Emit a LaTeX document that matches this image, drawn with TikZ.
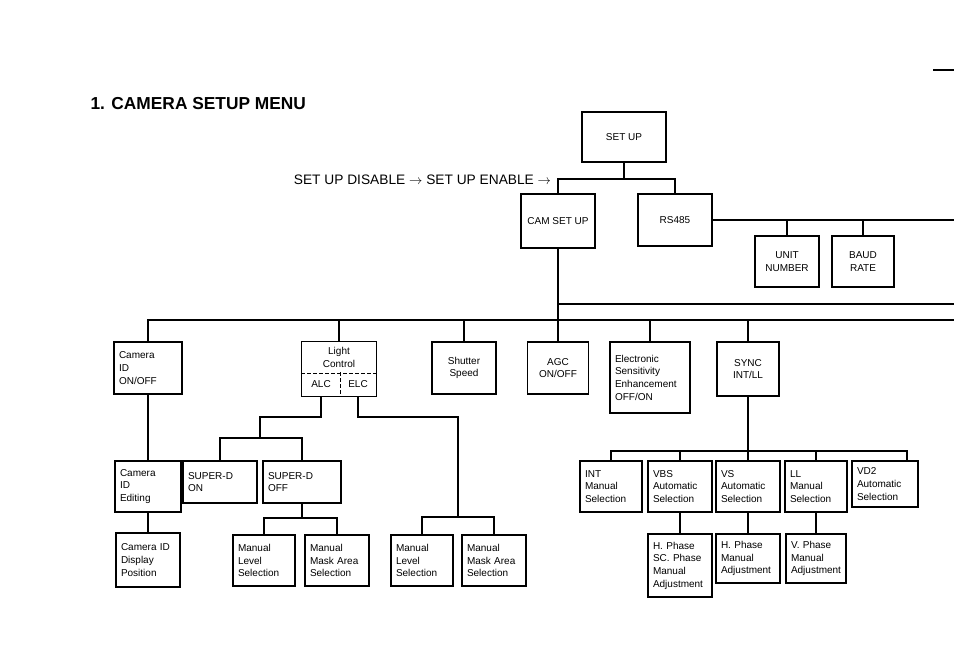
\documentclass[tikz,border=0pt]{standalone}
\usepackage{fontspec}
\setmainfont{Liberation Sans}
\begin{document}
\begin{tikzpicture}[x=0.75pt, y=-0.75pt, every path/.style={line width=0.9pt},
  box/.style 2 args={draw, minimum width=#1*0.75pt, minimum height=#2*0.75pt, inner sep=0pt, align=center, font=\fontsize{7.5}{9.5}\selectfont},
  lbox/.style 2 args={box={#1}{#2}, align=left, inner xsep=3.75pt, /utils/exec={\pgfmathsetlengthmacro\lboxw{#1*0.75pt-7.5pt}}, text width=\lboxw},
  cell/.style 2 args={box={#1}{#2}, draw=none}]
	\useasboundingbox (0,0) rectangle (954,665);
	\node[font=\bfseries\fontsize{13}{15}\selectfont, anchor=west, inner sep=0pt] (title) at (90,104) {1. CAMERA SETUP MENU};
	\node[font=\fontsize{10.3}{12}\selectfont, anchor=east, inner sep=1pt] (mode) at (553,180) {SET UP DISABLE $\rightarrow$ SET UP ENABLE $\rightarrow$};
	\node[box={84}{50}] (setup) at (624,137) {SET UP};
	\node[box={74}{54}] (cam) at (558,221) {CAM SET UP};
	\node[box={74}{52}] (rs) at (675,220) {RS485};
	\node[box={64}{51}] (unit) at (787,261.5) {UNIT\\NUMBER};
	\node[box={62}{51}] (baud) at (863,261.5) {BAUD\\RATE};
	\node[lbox={68}{52}] (camid) at (148,368) {Camera\\ID\\ON/OFF};
	\node[cell={74}{31}] (light) at (339,357.5) {Light\\Control};
	\node[cell={38}{23}] (alc) at (321,384.5) {ALC};
	\node[cell={36}{23}] (elc) at (358,384.5) {ELC};
	\node[box={64}{52}] (shut) at (464,368) {Shutter\\Speed};
	\node[box={61}{52}] (agc) at (558,368) {AGC\\ON/OFF};
	\node[lbox={80}{71}] (ese) at (650,377.5) {Electronic\\Sensitivity\\Enhancement\\OFF/ON};
	\node[box={62}{54}] (sync) at (748,369) {SYNC\\INT/LL};
	\node[lbox={66}{51}] (camed) at (148,486.5) {Camera\\ID\\Editing};
	\node[lbox={64}{54}] (campos) at (148,560) {Camera ID\\Display\\Position};
	\node[lbox={74}{42}] (sdon) at (220,482) {SUPER-D\\ON};
	\node[lbox={78}{42}] (sdoff) at (302,482) {SUPER-D\\OFF};
	\node[lbox={62}{51}] (lev1) at (264,560.5) {Manual\\Level\\Selection};
	\node[lbox={64}{51}] (mask1) at (337,560.5) {Manual\\Mask Area\\Selection};
	\node[lbox={62}{51}] (lev2) at (422,560.5) {Manual\\Level\\Selection};
	\node[lbox={64}{51}] (mask2) at (494,560.5) {Manual\\Mask Area\\Selection};
	\node[lbox={62}{51}] (int) at (611,486.5) {INT\\Manual\\Selection};
	\node[lbox={64}{51}] (vbs) at (680,486.5) {VBS\\Automatic\\Selection};
	\node[lbox={64}{51}] (vs) at (748,486.5) {VS\\Automatic\\Selection};
	\node[lbox={62}{51}] (ll) at (816,486.5) {LL\\Manual\\Selection};
	\node[lbox={66}{46}] (vd2) at (885,484) {VD2\\Automatic\\Selection};
	\node[lbox={64}{63}] (hsc) at (680,565.5) {H. Phase\\SC. Phase\\Manual\\Adjustment};
	\node[lbox={64}{49}] (hph) at (748,558.5) {H. Phase\\Manual\\Adjustment};
	\node[lbox={60}{49}] (vph) at (816,558.5) {V. Phase\\Manual\\Adjustment};
	\coordinate (m1) at (933,70);
	\coordinate (m2) at (954,70);
	\draw (m1) -- (m2);
	\coordinate (t1) at (624,179);
	\draw (setup) -- (t1);
	\draw (cam.north) |- (t1) -| (rs.north);
	\coordinate (r0) at (954,220);
	\draw (rs.east) -- (r0);
	\draw (unit.north) -- (unit.north |- r0);
	\draw (baud.north) -- (baud.north |- r0);
	\coordinate (b2) at (954,304);
	\coordinate (b3) at (954,320);
	\draw (cam.south) -- (agc.north);
	\draw (cam.south |- b2) -- (b2);
	\draw (camid.north) |- (b3);
	\foreach \n in {light,shut,ese,sync} \draw (\n.north) -- (\n.north |- b3);
	\draw (light.north west) rectangle (elc.south east);
	\draw[dash pattern=on 3pt off 1.5pt] (light.south west) -- (light.south east);
	\draw[dash pattern=on 3pt off 1.5pt] (alc.north east) -- (alc.south east);
	\draw (camid) -- (camed);
	\draw (camed) -- (campos);
	\coordinate (a1) at (260,417);
	\coordinate (a2) at (260,438);
	\draw (alc.south) |- (a1) -- (a2);
	\draw (sdon.north) |- (a2) -| (sdoff.north);
	\coordinate (a3) at (302,518);
	\draw (sdoff.south) -- (a3);
	\draw (lev1.north) |- (a3) -| (mask1.north);
	\coordinate (e1) at (458,417);
	\coordinate (e2) at (458,517);
	\draw (elc.south) |- (e1) -- (e2);
	\draw (lev2.north) |- (e2) -| (mask2.north);
	\coordinate (s1) at (748,451);
	\coordinate (s2) at (907,451);
	\draw (sync.south) -- (s1);
	\draw (int.north) |- (s2) -- (s2 |- vd2.north);
	\foreach \n in {vbs,vs,ll} \draw (\n.north) -- (\n.north |- s1);
	\draw (vbs) -- (hsc);
	\draw (vs) -- (hph);
	\draw (ll) -- (vph);
\end{tikzpicture}
\end{document}
